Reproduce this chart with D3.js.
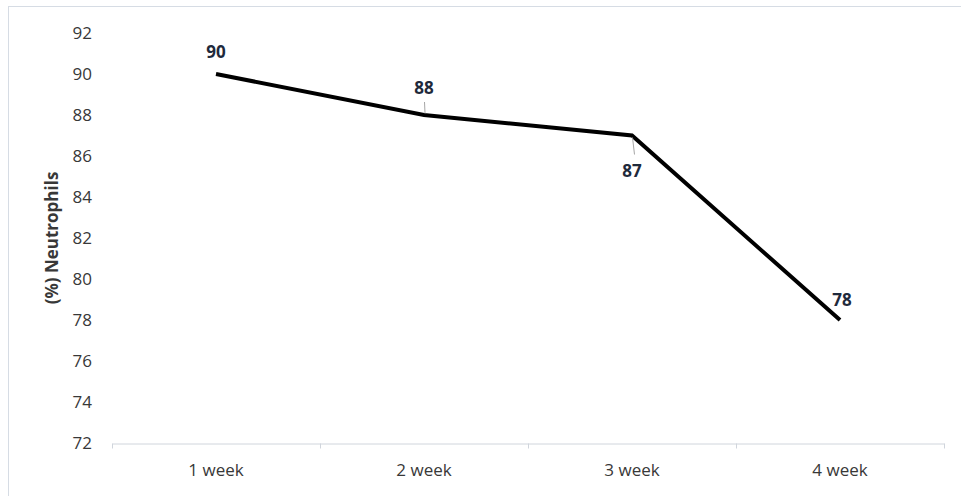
<!DOCTYPE html>
<html>
<head>
<meta charset="utf-8">
<script src="https://cdn.jsdelivr.net/npm/d3@7"></script>
<style>
  body { margin: 0; background: #fff; overflow: hidden; }
  text { font-family: "Open Sans", "Noto Sans", sans-serif; }
</style>
</head>
<body>
<svg id="svg" width="961" height="496"></svg>
<script>
// データ
const weeks = ["1 week", "2 week", "3 week", "4 week"];
const neutrophils = [90, 88, 87, 78];
const yTicks = [72, 74, 76, 78, 80, 82, 84, 86, 88, 90, 92];

const svg = d3.select("#svg");

// 外枠（右と下は画面外まで）
svg.append("rect")
  .attr("x", 8.5).attr("y", 6.5)
  .attr("width", 1000).attr("height", 600)
  .attr("fill", "none").attr("stroke", "#d6dce4");

const x = d3.scaleBand().domain(weeks).range([112, 944]);
const y = d3.scaleLinear().domain([72, 92]).range([443, 33]);

// y軸ラベル
svg.append("g")
  .selectAll("text")
  .data(yTicks)
  .join("text")
  .attr("x", 92)
  .attr("y", d => y(d))
  .attr("dy", "0.35em")
  .attr("text-anchor", "end")
  .attr("font-size", 17)
  .attr("fill", "#383838")
  .text(d => d);

// x軸
const xAxis = svg.append("g")
  .attr("transform", "translate(0,443.5)")
  .call(d3.axisBottom(x).tickSize(0).tickPadding(20));
xAxis.select(".domain").attr("stroke", "#d0d5dc");
xAxis.selectAll("text").attr("font-size", 17).attr("fill", "#383838")
  .style("font-family", '"Open Sans", "Noto Sans", sans-serif');
// 区切りの目盛り
const bounds = weeks.map(w => x(w)).concat([x.range()[1]]);
xAxis.selectAll(".sep")
  .data(bounds)
  .join("line")
  .attr("class", "sep")
  .attr("x1", d => d + 0.5).attr("x2", d => d + 0.5)
  .attr("y1", 0).attr("y2", 5)
  .attr("stroke", "#d0d5dc");

// 軸タイトル
svg.append("text")
  .attr("transform", "translate(58," + y(82) + ") rotate(-90)")
  .attr("text-anchor", "middle")
  .attr("font-size", 17)
  .attr("font-weight", "bold")
  .attr("fill", "#383838")
  .text("(%) Neutrophils");

const cx = d => x(d) + x.bandwidth() / 2;

// 折れ線
const line = d3.line()
  .x((d, i) => cx(weeks[i]))
  .y(d => y(d));
svg.append("path")
  .datum(neutrophils)
  .attr("d", line)
  .attr("fill", "none")
  .attr("stroke", "#000")
  .attr("stroke-width", 4)
  .attr("stroke-linejoin", "miter");

// データラベルの位置（点からのずれ）
const labelOffset = [-22, -27, 36, -20];
const labelDx = [0, 0, 0, 2];

// 引き出し線
const leaders = [null, [-13, -2], [2, 19], null];
svg.append("g")
  .selectAll("line")
  .data(neutrophils.map((v, i) => ({ v, i })).filter(d => leaders[d.i]))
  .join("line")
  .attr("x1", d => cx(weeks[d.i]) + 0.5)
  .attr("x2", d => cx(weeks[d.i]) + (d.i == 2 ? 2.5 : 1))
  .attr("y1", d => y(d.v) + leaders[d.i][0])
  .attr("y2", d => y(d.v) + leaders[d.i][1])
  .attr("stroke", "#a6a6a6")
  .attr("stroke-width", 1);

svg.append("g")
  .selectAll("text")
  .data(neutrophils)
  .join("text")
  .attr("x", (d, i) => cx(weeks[i]) + labelDx[i])
  .attr("y", (d, i) => y(d) + labelOffset[i])
  .attr("dy", "0.35em")
  .attr("text-anchor", "middle")
  .attr("font-size", 17)
  .attr("font-weight", "bold")
  .attr("fill", "#1f2a3c")
  .text(d => d);
</script>
</body>
</html>
